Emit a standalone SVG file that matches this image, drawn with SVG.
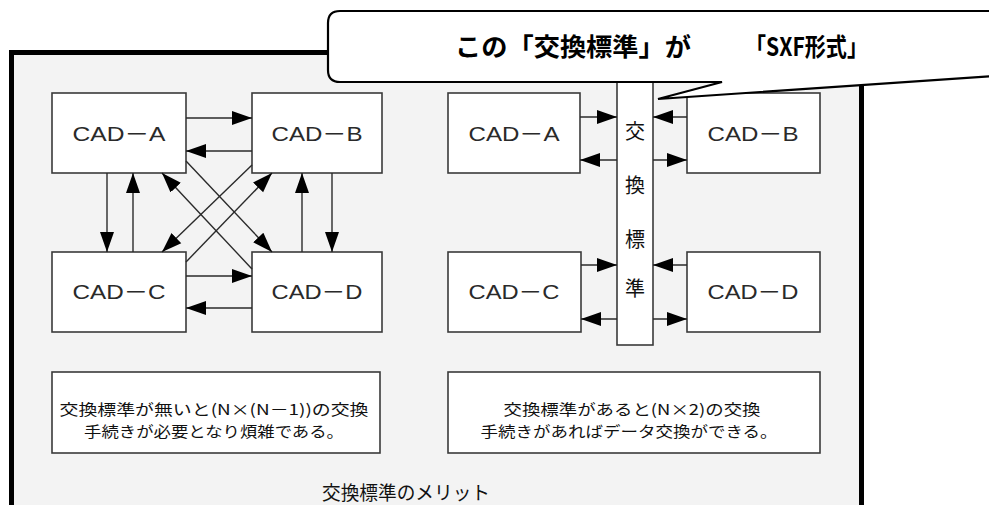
<svg xmlns="http://www.w3.org/2000/svg" width="989" height="505" viewBox="0 0 989 505">
<style>
.box{fill:#fff;stroke:#3a3a3a;stroke-width:1.6}
.cad{font-family:"Liberation Sans","Noto Sans CJK JP",sans-serif;font-size:21px;fill:#2a2a2a;text-anchor:middle}
.jp{font-family:"Noto Sans CJK JP",sans-serif;fill:#111;text-anchor:middle}
.con line{stroke:#2a2a2a;stroke-width:1.4;fill:none}
</style>
<defs>
<marker id="ah" markerUnits="userSpaceOnUse" viewBox="0 0 20 16" markerWidth="20" markerHeight="16" refX="20" refY="8" orient="auto">
<path d="M0,1 L20,8 L0,15 z" fill="#000"/>
</marker>
</defs>
<rect x="0" y="0" width="989" height="505" fill="#fff"/>
<g id="frame">
<rect x="11.5" y="52.5" width="850" height="470" fill="#f3f3f3" stroke="#000" stroke-width="5"/>
</g>
<g id="bar">
<rect x="617" y="70" width="36" height="275" fill="#fff" stroke="#3a3a3a" stroke-width="1.6"/>
<text class="jp" x="635" y="139" font-size="20">交</text>
<text class="jp" x="635" y="193" font-size="20">換</text>
<text class="jp" x="635" y="247" font-size="20">標</text>
<text class="jp" x="635" y="296" font-size="20">準</text>
</g>
<g id="L-A"><rect class="box" x="52" y="93" width="134" height="80"/><text class="cad" x="119" y="141" textLength="93" lengthAdjust="spacingAndGlyphs">CAD－A</text></g>
<g id="L-B"><rect class="box" x="252" y="93" width="130" height="80"/><text class="cad" x="317" y="141" textLength="91" lengthAdjust="spacingAndGlyphs">CAD－B</text></g>
<g id="L-C"><rect class="box" x="52" y="252" width="134" height="80"/><text class="cad" x="119" y="299" textLength="93" lengthAdjust="spacingAndGlyphs">CAD－C</text></g>
<g id="L-D"><rect class="box" x="252" y="252" width="130" height="80"/><text class="cad" x="317" y="299" textLength="91" lengthAdjust="spacingAndGlyphs">CAD－D</text></g>
<g id="R-A"><rect class="box" x="448" y="93" width="132" height="80"/><text class="cad" x="514" y="141" textLength="91" lengthAdjust="spacingAndGlyphs">CAD－A</text></g>
<g id="R-B"><rect class="box" x="687" y="93" width="133" height="80"/><text class="cad" x="753" y="141" textLength="91" lengthAdjust="spacingAndGlyphs">CAD－B</text></g>
<g id="R-C"><rect class="box" x="448" y="252" width="133" height="80"/><text class="cad" x="514" y="299" textLength="91" lengthAdjust="spacingAndGlyphs">CAD－C</text></g>
<g id="R-D"><rect class="box" x="687" y="252" width="133" height="80"/><text class="cad" x="753" y="299" textLength="91" lengthAdjust="spacingAndGlyphs">CAD－D</text></g>
<g id="note-left"><rect class="box" x="52" y="372" width="328" height="81"/>
<text class="jp" x="214" y="415" font-size="15" textLength="309" lengthAdjust="spacingAndGlyphs">交換標準が無いと(N×(N－1))の交換</text>
<text class="jp" x="214" y="437" font-size="15" textLength="260" lengthAdjust="spacingAndGlyphs">手続きが必要となり煩雑である。</text>
</g>
<g id="note-right"><rect class="box" x="448" y="372" width="372" height="81"/>
<text class="jp" x="632" y="415" font-size="15" textLength="257" lengthAdjust="spacingAndGlyphs">交換標準があると(N×2)の交換</text>
<text class="jp" x="629" y="437" font-size="15" textLength="297" lengthAdjust="spacingAndGlyphs">手続きがあればデータ交換ができる。</text>
</g>
<g id="caption"><text class="jp" x="406" y="500" font-size="19" fill="#222" textLength="168" lengthAdjust="spacingAndGlyphs">交換標準のメリット</text></g>
<g id="connectors" class="con" marker-end="url(#ah)">
<line x1="186" y1="118" x2="252" y2="118" marker-end="url(#ah)"/>
<line x1="252" y1="151" x2="186" y2="151" marker-end="url(#ah)"/>
<line x1="186" y1="276" x2="252" y2="276" marker-end="url(#ah)"/>
<line x1="252" y1="308" x2="186" y2="308" marker-end="url(#ah)"/>
<line x1="107" y1="173" x2="107" y2="252" marker-end="url(#ah)"/>
<line x1="133" y1="252" x2="133" y2="173" marker-end="url(#ah)"/>
<line x1="302" y1="252" x2="302" y2="173" marker-end="url(#ah)"/>
<line x1="332" y1="173" x2="332" y2="252" marker-end="url(#ah)"/>
<line x1="186" y1="161" x2="272" y2="252" marker-end="url(#ah)"/>
<line x1="252" y1="269" x2="162" y2="173" marker-end="url(#ah)"/>
<line x1="252" y1="165" x2="162" y2="252" marker-end="url(#ah)"/>
<line x1="186" y1="262" x2="272" y2="173" marker-end="url(#ah)"/>
<line x1="580" y1="117" x2="617" y2="117" marker-end="url(#ah)"/>
<line x1="617" y1="160" x2="580" y2="160" marker-end="url(#ah)"/>
<line x1="687" y1="117" x2="653" y2="117" marker-end="url(#ah)"/>
<line x1="653" y1="160" x2="687" y2="160" marker-end="url(#ah)"/>
<line x1="581" y1="265" x2="617" y2="265" marker-end="url(#ah)"/>
<line x1="617" y1="319" x2="581" y2="319" marker-end="url(#ah)"/>
<line x1="687" y1="265" x2="653" y2="265" marker-end="url(#ah)"/>
<line x1="653" y1="319" x2="687" y2="319" marker-end="url(#ah)"/>
</g>
<g id="callout">
<path d="M995,11 L340,11 Q328,11 328,23 L328,70 Q328,82 340,82 L722,82 L658,99 L995,76" fill="#fff" stroke="#000" stroke-width="2.2" stroke-linejoin="miter"/>
<text x="455" y="56" font-family="'Noto Sans CJK JP',sans-serif" font-weight="bold" font-size="25" fill="#000" textLength="236" lengthAdjust="spacingAndGlyphs">この「交換標準」が</text>
<text x="745" y="56" font-family="'Noto Sans CJK JP',sans-serif" font-weight="bold" font-size="25" fill="#000" textLength="123" lengthAdjust="spacingAndGlyphs">「SXF形式」</text>
</g>
</svg>
